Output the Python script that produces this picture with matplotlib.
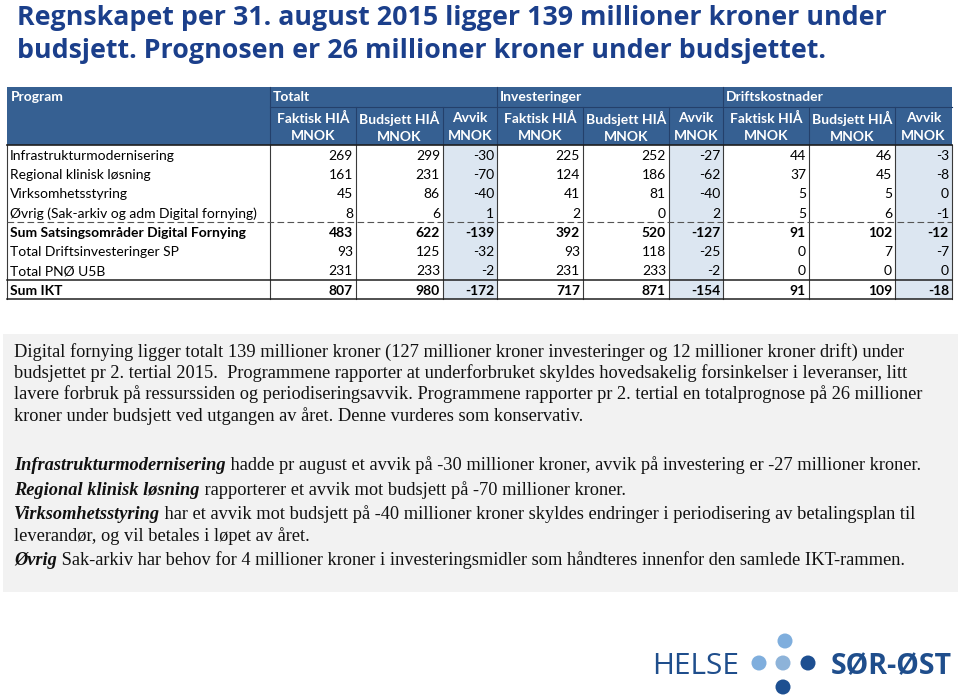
import numpy as np
import matplotlib
matplotlib.use("Agg")
import matplotlib.pyplot as plt
from matplotlib.patches import Rectangle, Circle

# --- data ---
programs = ["Infrastrukturmodernisering", "Regional klinisk løsning", "Virksomhetsstyring",
            "Øvrig (Sak-arkiv og adm Digital fornying)", "Sum Satsingsområder Digital Fornying",
            "Total Driftsinvesteringer SP", "Total PNØ U5B", "Sum IKT"]
bold_rows = [4, 7]
groups = ["Totalt", "Investeringer", "Driftskostnader"]
sub_headers = ["Faktisk HIÅ\nMNOK", "Budsjett HIÅ\nMNOK", "Avvik\nMNOK"]
totalt_faktisk = [269, 161, 45, 8, 483, 93, 231, 807]
totalt_budsjett = [299, 231, 86, 6, 622, 125, 233, 980]
totalt_avvik = [-30, -70, -40, 1, -139, -32, -2, -172]
inv_faktisk = [225, 124, 41, 2, 392, 93, 231, 717]
inv_budsjett = [252, 186, 81, 0, 520, 118, 233, 871]
inv_avvik = [-27, -62, -40, 2, -127, -25, -2, -154]
drift_faktisk = [44, 37, 5, 5, 91, 0, 0, 91]
drift_budsjett = [46, 45, 5, 6, 102, 7, 0, 109]
drift_avvik = [-3, -8, 0, -1, -12, -7, 0, -18]

title_lines = ["Regnskapet per 31. august 2015 ligger 139 millioner kroner under",
               "budsjett. Prognosen er 26 millioner kroner under budsjettet."]
intro_lines = [
    "Digital fornying ligger totalt 139 millioner kroner (127 millioner kroner investeringer og 12 millioner kroner drift) under",
    "budsjettet pr 2. tertial 2015.  Programmene rapporter at underforbruket skyldes hovedsakelig forsinkelser i leveranser, litt",
    "lavere forbruk på ressurssiden og periodiseringsavvik. Programmene rapporter pr 2. tertial en totalprognose på 26 millioner",
    "kroner under budsjett ved utgangen av året. Denne vurderes som konservativ.",
]
notes = [
    ("Infrastrukturmodernisering", " hadde pr august et avvik på -30 millioner kroner, avvik på investering er -27 millioner kroner."),
    ("Regional klinisk løsning", " rapporterer et avvik mot budsjett på -70 millioner kroner."),
    ("Virksomhetsstyring", " har et avvik mot budsjett på -40 millioner kroner skyldes endringer i periodisering av betalingsplan til"),
    ("", "leverandør, og vil betales i løpet av året."),
    ("Øvrig", " Sak-arkiv har behov for 4 millioner kroner i investeringsmidler som håndteres innenfor den samlede IKT-rammen."),
]

columns = [totalt_faktisk, totalt_budsjett, totalt_avvik,
           inv_faktisk, inv_budsjett, inv_avvik,
           drift_faktisk, drift_budsjett, drift_avvik]

HEAD = "#366092"
AVVIK_BG = "#DCE6F1"
NAVY = "#1B3F8B"
TFONT = "Lato"

fig = plt.figure(figsize=(9.59, 7.0), dpi=100)
ax = fig.add_axes([0, 0, 1, 1])
ax.set_xlim(0, 959); ax.set_ylim(700, 0); ax.axis("off")

# title
for i, line in enumerate(title_lines):
    ax.text(17, 25 + i * 33, line, color=NAVY, fontsize=19.3, fontweight="bold",
            family="Open Sans", va="baseline")

# --- table ---
xb = [7, 270, 356, 443, 497, 583, 669, 723, 809, 895, 952]
y_top, y_h1, y_h2 = 87, 107, 145
row_h = 19.3
row_y = [y_h2 + i * row_h for i in range(9)]
row_y[-1] = 299

ax.add_patch(Rectangle((xb[0], y_top), xb[-1] - xb[0], y_h2 - y_top, color=HEAD, lw=0))
for j in (2, 5, 8):
    ax.add_patch(Rectangle((xb[j + 1], y_h2), xb[j + 2] - xb[j + 1], row_y[-1] - y_h2,
                           color=AVVIK_BG, lw=0))
ax.text(xb[0] + 4, (y_top + y_h1) / 2, "Program", color="white", fontsize=10,
        fontweight="bold", family=TFONT, va="center")
for g, name in enumerate(groups):
    ax.text(xb[1 + 3 * g] + 3, (y_top + y_h1) / 2, name, color="white", fontsize=10,
            fontweight="bold", family=TFONT, va="center")
for k in range(9):
    ax.text((xb[k + 1] + xb[k + 2]) / 2, (y_h1 + y_h2) / 2 + 1, sub_headers[k % 3], color="white",
            fontsize=10, fontweight="bold", family=TFONT, ha="center", va="center",
            linespacing=1.5)

for i, name in enumerate(programs):
    yc = (row_y[i] + row_y[i + 1]) / 2 + 1
    fw = "bold" if i in bold_rows else "normal"
    ax.text(xb[0] + 3, yc, name, fontsize=10, fontweight=fw, family=TFONT, va="center", color="black")
    for k, col in enumerate(columns):
        ax.text(xb[k + 2] - 3, yc, str(col[i]), fontsize=10, fontweight=fw, family=TFONT,
                ha="right", va="center", color="black")

# grid lines
lc = "#3a3a3a"
ax.plot([xb[1], xb[-1]], [y_h1, y_h1], color="#24406b", lw=0.8)
for x in xb[1:-1]:
    top = y_top if x in (xb[1], xb[4], xb[7]) else y_h1
    ax.plot([x, x], [top, y_h2], color="#24406b", lw=0.8)
    ax.plot([x, x], [y_h2, row_y[-1]], color=lc, lw=0.8)
ax.plot([xb[0], xb[0]], [y_h2, row_y[-1]], color=lc, lw=0.8)
ax.plot([xb[-1], xb[-1]], [y_h2, row_y[-1]], color=lc, lw=0.8)
ax.plot([xb[0], xb[-1]], [y_h2, y_h2], color="#1f1f1f", lw=1.2)
ax.plot([xb[0], xb[-1]], [row_y[4], row_y[4]], color="#555555", lw=0.8, ls=(0, (6, 3)))
ax.plot([xb[0], xb[-1]], [row_y[7], row_y[7]], color="#1f1f1f", lw=1.1)
ax.plot([xb[0], xb[-1]], [row_y[8], row_y[8]], color="#1f1f1f", lw=1.1)

# --- comment box ---
ax.add_patch(Rectangle((3, 334), 955, 258, color="#F2F2F2", lw=0))
TXT = "Liberation Serif"
FS = 13.2
for i, line in enumerate(intro_lines):
    ax.text(14, 357 + i * 21.2, line, fontsize=FS, family=TXT, va="baseline", color="#111111")
note_y = [470, 495, 519, 541, 565]
for (b, rest), y in zip(notes, note_y):
    if b:
        t = ax.text(14, y, b, fontsize=FS, family=TXT, fontweight="bold", style="italic",
                    va="baseline", color="#111111")
        ax.annotate(rest, xy=(1, 0), xycoords=t, xytext=(0, 0), textcoords="offset points",
                    fontsize=FS, family=TXT, va="bottom", ha="left", color="#111111")
    else:
        ax.text(14, y, rest, fontsize=FS, family=TXT, va="baseline", color="#111111")

# --- logo ---
ax.text(652, 674, "HELSE", fontsize=21.5, family="Open Sans", color="#1F4E8C", va="baseline")
ax.text(831, 674, "SØR-ØST", fontsize=20.5, family="Open Sans", fontweight="bold",
        color="#1F4E8C", va="baseline")
for (cx, cy, c) in [(785, 641, "#7FAEDD"), (759, 663, "#7FAEDD"), (783, 663, "#8DB3D9"),
                    (808, 663, "#1D4F91"), (783, 687, "#1D4F91")]:
    ax.add_patch(Circle((cx, cy), 7.5, color=c, lw=0))

fig.savefig("out.png", dpi=100)
